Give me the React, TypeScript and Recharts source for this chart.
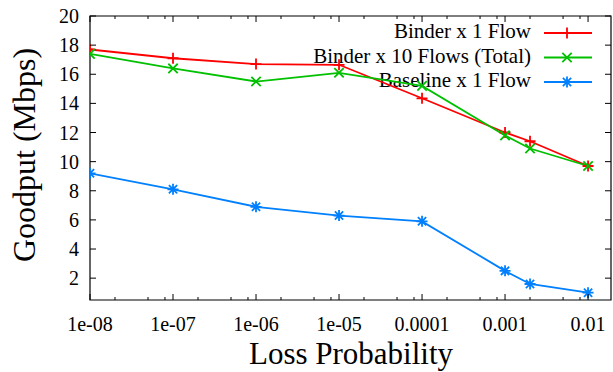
import React from 'react';
import { LineChart, Line, XAxis, YAxis, ReferenceArea, Customized } from 'recharts';

// ---- data ----
const lossProb = [1e-8, 1e-7, 1e-6, 1e-5, 1e-4, 1e-3, 2e-3, 1e-2];
const binder1Flow = [17.7, 17.1, 16.7, 16.65, 14.35, 12.0, 11.4, 9.7];
const binder10Flows = [17.4, 16.4, 15.5, 16.1, 15.2, 11.8, 10.9, 9.7];
const baseline1Flow = [9.2, 8.1, 6.9, 6.3, 5.9, 2.5, 1.6, 1.0];

const xMajorTicks = [1e-8, 1e-7, 1e-6, 1e-5, 1e-4, 1e-3, 1e-2];
const xTickLabels = ['1e-08', '1e-07', '1e-06', '1e-05', '0.0001', '0.001', '0.01'];
const xMinorTicks = [
  2e-8, 5e-8, 8e-8,
  2e-7, 5e-7, 8e-7,
  2e-6, 5e-6, 8e-6,
  2e-5, 5e-5, 8e-5,
  2e-4, 5e-4, 8e-4,
  2e-3, 5e-3, 8e-3,
];
const yTicks = [2, 4, 6, 8, 10, 12, 14, 16, 18, 20];
const xDomain = [1e-8, 0.0189];
const yDomain = [0.5, 20];

const seriesNames = ['Binder x 1 Flow', 'Binder x 10 Flows (Total)', 'Baseline x 1 Flow'];
const seriesColors = ['#ff0000', '#00c000', '#0080ff'];

const data = lossProb.map((p, i) => ({
  p,
  binder1: binder1Flow[i],
  binder10: binder10Flows[i],
  baseline: baseline1Flow[i],
}));

// ---- layout constants ----
const W = 613;
const H = 372;
const PLOT_LEFT = 90;
const PLOT_RIGHT = 611;
const PLOT_TOP = 16;
const PLOT_BOTTOM = 300;
const FONT = '"Liberation Serif", "DejaVu Serif", serif';

const allXTicks = [...xMajorTicks, ...xMinorTicks].sort((a, b) => a - b);

const Marker = ({ kind, cx, cy, color }: { kind: number; cx: number; cy: number; color: string }) => {
  const s = 5.5;
  let d = '';
  if (kind === 0) d = `M${cx - s},${cy}H${cx + s}M${cx},${cy - s}V${cy + s}`;
  else if (kind === 1) d = `M${cx - s * 0.85},${cy - s * 0.85}L${cx + s * 0.85},${cy + s * 0.85}M${cx - s * 0.85},${cy + s * 0.85}L${cx + s * 0.85},${cy - s * 0.85}`;
  else
    d = `M${cx - s},${cy}H${cx + s}M${cx},${cy - s}V${cy + s}M${cx - s * 0.75},${cy - s * 0.75}L${cx + s * 0.75},${cy + s * 0.75}M${cx - s * 0.75},${cy + s * 0.75}L${cx + s * 0.75},${cy - s * 0.75}`;
  return <path d={d} stroke={color} strokeWidth={1.8} fill="none" />;
};

const makeDot = (kind: number) => (props: any) => {
  const { cx, cy, index } = props;
  return (
    <g key={`dot-${kind}-${index}`}>
      <Marker kind={kind} cx={cx} cy={cy} color={seriesColors[kind]} />
    </g>
  );
};

const BottomTick = (props: any) => {
  const { x, payload } = props;
  const v = payload.value;
  const idx = xMajorTicks.indexOf(v);
  const major = idx >= 0;
  const len = major ? 6 : 3;
  return (
    <g>
      <line x1={x} x2={x} y1={PLOT_BOTTOM} y2={PLOT_BOTTOM - len} stroke="#000" strokeWidth={1} />
      <line x1={x} x2={x} y1={PLOT_TOP} y2={PLOT_TOP + len} stroke="#000" strokeWidth={1} />
      {major && (
        <text x={x} y={331} textAnchor="middle" fontFamily={FONT} fontSize={20} fill="#000">
          {xTickLabels[idx]}
        </text>
      )}
    </g>
  );
};

const LeftTick = (props: any) => {
  const { y, payload } = props;
  return (
    <g>
      <line x1={PLOT_LEFT} x2={PLOT_LEFT + 6} y1={y} y2={y} stroke="#000" strokeWidth={1} />
      <line x1={PLOT_RIGHT} x2={PLOT_RIGHT - 6} y1={y} y2={y} stroke="#000" strokeWidth={1} />
      <text x={79} y={y} dy="0.35em" textAnchor="end" fontFamily={FONT} fontSize={20} fill="#000">
        {payload.value}
      </text>
    </g>
  );
};

const LegendAndTitles = () => {
  const rows = [38, 62.5, 87];
  return (
    <g>
      {seriesNames.map((name, i) => (
        <g key={name}>
          <text x={531} y={rows[i]} textAnchor="end" fontFamily={FONT} fontSize={21} fill="#000">
            {name}
          </text>
          <line x1={544} x2={592} y1={rows[i] - 5} y2={rows[i] - 5} stroke={seriesColors[i]} strokeWidth={1.8} />
          <Marker kind={i} cx={567} cy={rows[i] - 5} color={seriesColors[i]} />
        </g>
      ))}
      <text x={351} y={364} textAnchor="middle" fontFamily={FONT} fontSize={31} fill="#000">
        Loss Probability
      </text>
      <text
        x={35}
        y={155}
        textAnchor="middle"
        fontFamily={FONT}
        fontSize={32}
        fill="#000"
        transform="rotate(-90, 35, 155)"
      >
        Goodput (Mbps)
      </text>
    </g>
  );
};

export default function App() {
  return (
    <div style={{ position: 'absolute', left: 0, top: 0, width: W, height: H, background: '#fff' }}>
      <LineChart
        width={W}
        height={H}
        data={data}
        margin={{ top: PLOT_TOP, right: W - PLOT_RIGHT, bottom: 0, left: 0 }}
      >
        <XAxis
          dataKey="p"
          type="number"
          scale="log"
          domain={xDomain}
          allowDataOverflow
          ticks={allXTicks}
          interval={0}
          tick={<BottomTick />}
          tickLine={false}
          axisLine={false}
          height={H - PLOT_BOTTOM}
        />
        <YAxis
          type="number"
          domain={yDomain}
          allowDataOverflow
          ticks={yTicks}
          interval={0}
          tick={<LeftTick />}
          tickLine={false}
          axisLine={false}
          width={PLOT_LEFT}
        />
        <ReferenceArea
          x1={xDomain[0]}
          x2={xDomain[1]}
          y1={yDomain[0]}
          y2={yDomain[1]}
          fill="none"
          fillOpacity={0}
          stroke="#000"
          strokeWidth={1.2}
          ifOverflow="visible"
        />
        <Line
          type="linear"
          dataKey="binder1"
          stroke={seriesColors[0]}
          strokeWidth={1.8}
          dot={makeDot(0)}
          activeDot={false}
          isAnimationActive={false}
        />
        <Line
          type="linear"
          dataKey="binder10"
          stroke={seriesColors[1]}
          strokeWidth={1.8}
          dot={makeDot(1)}
          activeDot={false}
          isAnimationActive={false}
        />
        <Line
          type="linear"
          dataKey="baseline"
          stroke={seriesColors[2]}
          strokeWidth={1.8}
          dot={makeDot(2)}
          activeDot={false}
          isAnimationActive={false}
        />
        <Customized component={LegendAndTitles} />
      </LineChart>
    </div>
  );
}
